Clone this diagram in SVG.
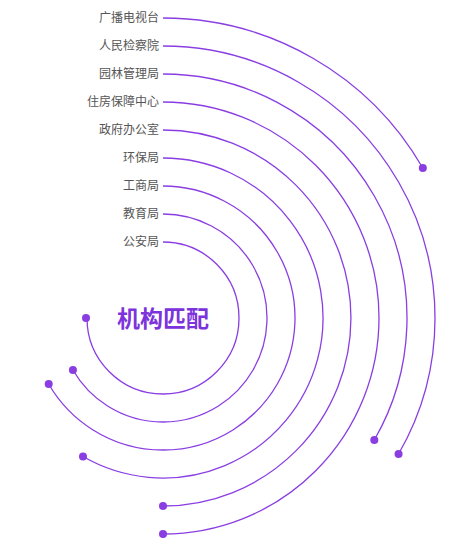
<svg xmlns="http://www.w3.org/2000/svg" width="456" height="552" viewBox="0 0 456 552">
<style>
.lbl{font-family:"Noto Sans CJK SC","Noto Sans",sans-serif;font-size:12px;fill:#555;text-anchor:end}
.arc{fill:none;stroke:#8a3ee2;stroke-width:1.3}
.dot{fill:#8a3ee2}
.title{font-family:"Noto Sans CJK SC","Noto Sans",sans-serif;font-size:23px;font-weight:bold;fill:#7c33dc;text-anchor:middle}
</style>
<rect width="456" height="552" fill="#fff"/>
<g id="connectors">
<path class="arc" d="M163 18 A300 300 0 0 1 422.81 168"/>
<path class="arc" d="M163 46 A272 272 0 0 1 398.56 454"/>
<path class="arc" d="M163 74 A244 244 0 0 1 374.31 440"/>
<path class="arc" d="M163 102 A216 216 0 0 1 163 534"/>
<path class="arc" d="M163 130 A188 188 0 0 1 163 506"/>
<path class="arc" d="M163 158 A160 160 0 1 1 83 456.56"/>
<path class="arc" d="M163 186 A132 132 0 1 1 48.68 384"/>
<path class="arc" d="M163 214 A104 104 0 1 1 72.93 370"/>
<path class="arc" d="M163 242 A76 76 0 1 1 87 318"/>
</g>
<g id="n1"><text class="lbl" x="159" y="22">广播电视台</text><circle class="dot" cx="422.81" cy="168" r="4"/></g>
<g id="n2"><text class="lbl" x="159" y="50">人民检察院</text><circle class="dot" cx="398.56" cy="454" r="4"/></g>
<g id="n3"><text class="lbl" x="159" y="78">园林管理局</text><circle class="dot" cx="374.31" cy="440" r="4"/></g>
<g id="n4"><text class="lbl" x="159" y="106">住房保障中心</text><circle class="dot" cx="163" cy="534" r="4"/></g>
<g id="n5"><text class="lbl" x="159" y="134">政府办公室</text><circle class="dot" cx="163" cy="506" r="4"/></g>
<g id="n6"><text class="lbl" x="159" y="162">环保局</text><circle class="dot" cx="83" cy="456.56" r="4"/></g>
<g id="n7"><text class="lbl" x="159" y="190">工商局</text><circle class="dot" cx="48.68" cy="384" r="4"/></g>
<g id="n8"><text class="lbl" x="159" y="218">教育局</text><circle class="dot" cx="72.93" cy="370" r="4"/></g>
<g id="n9"><text class="lbl" x="159" y="246">公安局</text><circle class="dot" cx="86" cy="318" r="4"/></g>
<g id="title"><text class="title" x="163" y="327">机构匹配</text></g>
</svg>
